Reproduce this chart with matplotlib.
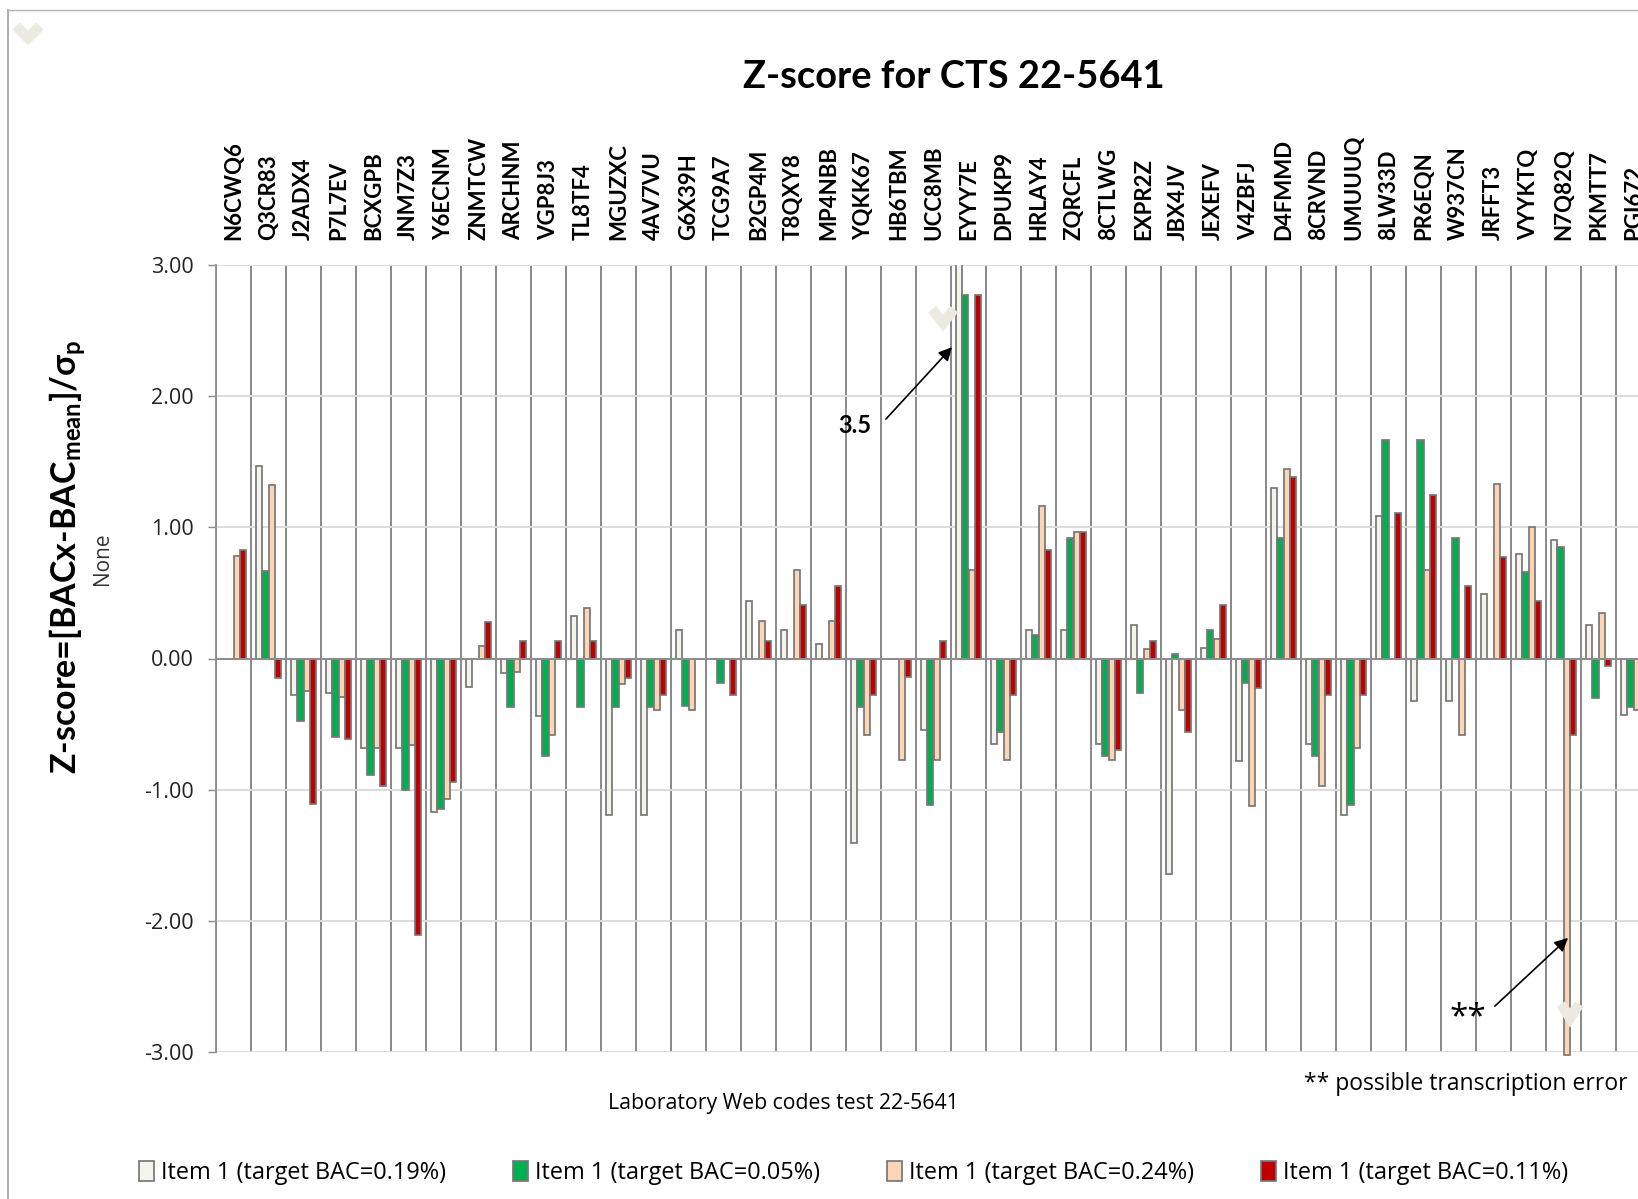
import matplotlib

matplotlib.use("Agg")
import matplotlib.pyplot as plt
import numpy as np
from matplotlib.lines import Line2D
from matplotlib.ticker import FixedFormatter, FixedLocator

lab_codes = [
    "N6CWQ6", "Q3CR83", "J2ADX4", "P7L7EV", "BCXGPB", "JNM7Z3", "Y6ECNM", "ZNMTCW",
    "ARCHNM", "VGP8J3", "TL8TF4", "MGUZXC", "4AV7VU", "G6X39H", "TCG9A7", "B2GP4M",
    "T8QXY8", "MP4NBB", "YQKK67", "HB6TBM", "UCC8MB", "EYYY7E", "DPUKP9", "HRLAY4",
    "ZQRCFL", "8CTLWG", "EXPR2Z", "JBX4JV", "JEXEFV", "V4ZBFJ", "D4FMMD", "8CRVND",
    "UMUUUQ", "8LW33D", "PR6EQN", "W937CN", "JRFFT3", "VYYKTQ", "N7Q82Q", "PKMTT7",
    "PGI672",
]

z_bac_019 = [
    0.0, 1.47, -0.28, -0.26, -0.68, -0.68, -1.17, -0.22, -0.11, -0.435, 0.325,
    -1.19, -1.19, 0.215, 0.0, 0.435, 0.216, 0.107, -1.41, 0.0, -0.546, 3.5,
    -0.65, 0.216, 0.216, -0.65, 0.254, -1.644, 0.08, -0.78, 1.30, -0.65, -1.194,
    1.084, -0.325, -0.325, 0.495, 0.798, 0.904, 0.254, -0.434,
]
z_bac_005 = [
    0.0, 0.67, -0.48, -0.60, -0.89, -1.00, -1.15, 0.0, -0.37, -0.745, -0.37,
    -0.37, -0.37, -0.365, -0.185, 0.0, 0.0, 0.0, -0.37, 0.0, -1.115, 2.77,
    -0.56, 0.18, 0.92, -0.745, -0.262, 0.033, 0.218, -0.185, 0.92, -0.745, -1.115,
    1.665, 1.665, 0.92, 0.0, 0.663, 0.849, -0.30, -0.37,
]
z_bac_024 = [
    0.78, 1.32, -0.25, -0.295, -0.68, -0.66, -1.07, 0.094, -0.10, -0.585, 0.385,
    -0.195, -0.39, -0.39, 0.0, 0.287, 0.673, 0.287, -0.585, -0.777, -0.777, 0.673,
    -0.777, 1.162, 0.965, -0.777, 0.076, -0.394, 0.15, -1.125, 1.447, -0.97, -0.68,
    0.0, 0.673, -0.585, 1.33, 1.0, -3.02, 0.345, -0.394,
]
z_bac_011 = [
    0.83, -0.145, -1.11, -0.61, -0.97, -2.11, -0.945, 0.275, 0.135, 0.135, 0.135,
    -0.145, -0.28, 0.0, -0.28, 0.135, 0.41, 0.55, -0.28, -0.142, 0.135, 2.77,
    -0.28, 0.826, 0.968, -0.70, 0.135, -0.56, 0.41, -0.226, 1.383, -0.28, -0.28,
    1.107, 1.246, 0.55, 0.772, 0.44, -0.585, -0.06, 0.0,
]

series_labels = [
    "Item 1 (target BAC=0.19%)",
    "Item 1 (target BAC=0.05%)",
    "Item 1 (target BAC=0.24%)",
    "Item 1 (target BAC=0.11%)",
]
series_colors = ["#F5F4EC", "#00B050", "#FCD5B5", "#C00000"]
y_ticks = [-3, -2, -1, 0, 1, 2, 3]

plt.rcParams["font.family"] = ["Lato", "DejaVu Sans"]
plt.rcParams["mathtext.default"] = "regular"

W, H = 1638, 1199
fig = plt.figure(figsize=(W / 100, H / 100), dpi=100)
ax = fig.add_axes([216 / W, 1 - 1052 / H, 1 - 216 / W, (1052 - 265) / H])

x = np.arange(len(lab_codes))
bar_width = 0.182
all_series = [z_bac_019, z_bac_005, z_bac_024, z_bac_011]
for i, values in enumerate(all_series):
    ax.bar(
        x + 0.5 + (i - 1.5) * bar_width,
        values,
        width=bar_width,
        color=series_colors[i],
        edgecolor="#777777",
        linewidth=1.25,
        label=series_labels[i],
        zorder=3,
        clip_on=(i != 2),
    )

ax.set_xlim(0, (W - 216) / 35)
ax.set_ylim(-3, 3)

ax.set_yticks(y_ticks)
ax.set_yticklabels([f"{v:.2f}" for v in y_ticks], fontsize=15.5, family="Open Sans", color="#222222")
ax.tick_params(axis="y", length=6, width=1.0, color="#8c8c8c", pad=10)
ax.yaxis.grid(True, color="#dcdcdc", linewidth=1.4, zorder=0)

# category boundaries are drawn as major gridlines, codes sit on the minor ticks
ax.xaxis.tick_top()
ax.xaxis.set_major_locator(FixedLocator(np.arange(0, len(lab_codes) + 1)))
ax.xaxis.set_major_formatter(FixedFormatter([""] * (len(lab_codes) + 1)))
ax.xaxis.set_minor_locator(FixedLocator(x + 0.5))
ax.xaxis.set_minor_formatter(FixedFormatter(lab_codes))
ax.tick_params(axis="x", which="both", length=0)
ax.tick_params(axis="x", which="minor", pad=18, labelsize=16, labelrotation=90)
for label in ax.get_xticklabels(minor=True):
    label.set_fontweight("bold")
    label.set_clip_on(False)
ax.xaxis.grid(True, which="major", color="#7f7f7f", linewidth=1.3, zorder=1)
ax.set_axisbelow(True)

for side in ["top", "right", "bottom"]:
    ax.spines[side].set_visible(False)
ax.spines["left"].set_color("#8c8c8c")
ax.spines["left"].set_linewidth(1.3)
ax.axhline(0, color="#8c8c8c", linewidth=1.4, zorder=4)

ax.annotate(
    "",
    xy=(21.03, 2.374),
    xytext=(19.14, 1.825),
    arrowprops=dict(arrowstyle="-|>", color="black", linewidth=1.2, mutation_scale=20, shrinkA=0, shrinkB=0),
    zorder=6,
)
ax.text(18.26, 1.78, "3.5", fontsize=17, fontweight="bold", ha="center", va="center", zorder=6)
ax.annotate(
    "",
    xy=(38.63, -2.13),
    xytext=(36.54, -2.65),
    arrowprops=dict(arrowstyle="-|>", color="black", linewidth=1.2, mutation_scale=20, shrinkA=0, shrinkB=0),
    zorder=6,
)
ax.text(35.77, -2.74, "**", fontsize=24, ha="center", va="center", zorder=6, family="Open Sans")

fig.text(954 / W, 1 - 77 / H, "Z-score for CTS 22-5641", fontsize=27.4, fontweight="bold", ha="center", va="center")
fig.text(
    68 / W, 1 - 557 / H,
    r"Z-score=[BACx-BAC$_{mean}$]/σ$_{p}$",
    fontsize=24.5, fontweight="bold", rotation=90, ha="center", va="center",
)
fig.text(102 / W, 1 - 559 / H, "None", fontsize=15, rotation=90, ha="center", va="center", family="Open Sans", color="#333333")
fig.text(783 / W, 1 - 1103 / H, "Laboratory Web codes test 22-5641", fontsize=15.3, ha="center", va="center", family="Open Sans")
fig.text(1466 / W, 1 - 1084 / H, "** possible transcription error", fontsize=16.5, ha="center", va="center", family="Open Sans")

legend = fig.legend(
    loc="center left",
    bbox_to_anchor=(139 / W, 1 - 1173 / H),
    ncol=4,
    frameon=False,
    prop={"family": "Open Sans", "size": 16.9},
    handlelength=0.64,
    handleheight=0.9,
    handletextpad=0.31,
    columnspacing=2.84,
    borderpad=0,
    borderaxespad=0,
)

# page border of the scanned chart
fig.add_artist(Line2D([8 / W, 8 / W], [0, 1 - 10 / H], color="#a6a6a6", linewidth=1.3))
fig.add_artist(Line2D([8 / W, 1], [1 - 10 / H, 1 - 10 / H], color="#b5b5b5", linewidth=1.0))

# pale check marks left on the page
for cx, cy, half_w, half_h in [(28, 32, 12, 6), (943, 316, 11, 7), (1570, 1011, 9, 7)]:
    fig.add_artist(
        Line2D(
            [(cx - half_w) / W, cx / W, (cx + half_w) / W],
            [1 - (cy - half_h) / H, 1 - (cy + half_h) / H, 1 - (cy - half_h) / H],
            color="#ECEAE0",
            linewidth=7.5,
            solid_joinstyle="miter",
            solid_capstyle="butt",
            zorder=8,
        )
    )

fig.savefig("out.png", dpi=100)
plt.close(fig)
